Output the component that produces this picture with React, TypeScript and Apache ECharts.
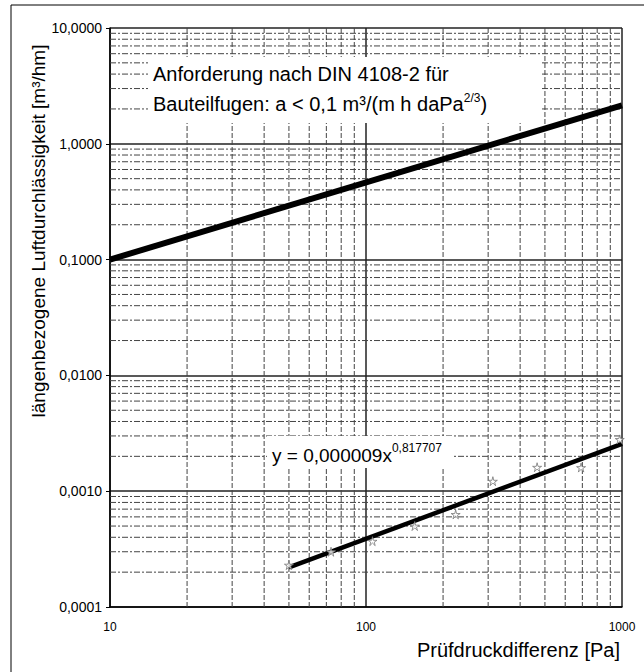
import React, { useEffect, useRef } from "react";
import * as echarts from "echarts";

const xMin = 10;
const xMax = 1000;
const yMin = 0.0001;
const yMax = 10;
const xTickLabels = ["10", "100", "1000"];
const xMinorGrid = [20, 30, 40, 50, 60, 70, 80, 90, 200, 300, 400, 500, 600, 700, 800, 900];
const yMinorGrid = [
  0.0002, 0.0003, 0.0004, 0.0005, 0.0006, 0.0007, 0.0008, 0.0009,
  0.002, 0.003, 0.004, 0.005, 0.006, 0.007, 0.008, 0.009,
  0.02, 0.03, 0.04, 0.05, 0.06, 0.07, 0.08, 0.09,
  0.2, 0.3, 0.4, 0.5, 0.6, 0.7, 0.8, 0.9,
  2, 3, 4, 5, 6, 7, 8, 9,
];
const requirementX = [10, 1000];
const requirementY = [0.1, 2.15];
const fitX = [50, 1000];
const fitY = [0.00022, 0.00256];
const pressure = [50, 73, 106, 155, 224, 313, 466, 692, 980];
const measured = [0.00023, 0.0003, 0.00037, 0.0005, 0.00063, 0.00122, 0.00161, 0.0016, 0.0028];

const FONT = "Liberation Sans, Arial, sans-serif";

export default function App() {
  const ref = useRef<HTMLDivElement>(null);
  useEffect(() => {
    if (!ref.current) return;
    const chart = echarts.init(ref.current, null, { renderer: "svg" });
    const vLine = (params: any, api: any) => {
      const cs = params.coordSys;
      const x = api.coord([api.value(0), 1])[0];
      return {
        type: "line",
        shape: { x1: x, y1: cs.y, x2: x, y2: cs.y + cs.height },
        style: { stroke: "#444", lineWidth: 1, lineDash: [5, 2] },
        silent: true,
      };
    };
    const hLine = (params: any, api: any) => {
      const cs = params.coordSys;
      const y = api.coord([10, api.value(1)])[1];
      return {
        type: "line",
        shape: { x1: cs.x, y1: y, x2: cs.x + cs.width, y2: y },
        style: { stroke: "#444", lineWidth: 1, lineDash: [6, 2, 2, 2] },
        silent: true,
      };
    };
    const fmtY = (v: number) => v.toFixed(4).replace(".", ",");
    chart.setOption({
      animation: false,
      backgroundColor: "#fff",
      grid: { left: 110, right: 22, top: 28, bottom: 65 },
      xAxis: {
        type: "log",
        logBase: 10,
        min: xMin,
        max: xMax,
        axisLine: { show: true, lineStyle: { color: "#000", width: 1.5 } },
        axisTick: { show: false },
        axisLabel: {
          color: "#000",
          fontFamily: FONT,
          fontSize: 12,
          margin: 14,
          formatter: (v: number) => {
            const i = Math.round(Math.log10(v)) - 1;
            return xTickLabels[i] ?? String(v);
          },
        },
        splitLine: { show: true, lineStyle: { color: "#222", width: 1.5 } },
      },
      yAxis: {
        type: "log",
        logBase: 10,
        min: yMin,
        max: yMax,
        axisLine: { show: true, lineStyle: { color: "#000", width: 1.5 } },
        axisTick: { show: true, length: 4, lineStyle: { color: "#000" } },
        axisLabel: {
          color: "#000",
          fontFamily: FONT,
          fontSize: 14,
          margin: 8,
          formatter: fmtY,
        },
        splitLine: { show: true, lineStyle: { color: "#222", width: 1.5 } },
      },
      series: [
        {
          type: "custom",
          renderItem: vLine,
          data: xMinorGrid.map((v) => [v, 1]),
          silent: true,
          z: 1,
        },
        {
          type: "custom",
          renderItem: hLine,
          data: yMinorGrid.map((v) => [10, v]),
          silent: true,
          z: 1,
        },
        {
          type: "line",
          data: requirementX.map((x, i) => [x, requirementY[i]]),
          showSymbol: false,
          lineStyle: { color: "#000", width: 6 },
          z: 5,
        },
        {
          type: "line",
          data: fitX.map((x, i) => [x, fitY[i]]),
          showSymbol: false,
          lineStyle: { color: "#000", width: 4.5 },
          z: 5,
        },
        {
          type: "scatter",
          data: pressure.map((x, i) => [x, measured[i]]),
          symbol:
            "path://M5 0 L6 4 L10 4 L7 6 L8 10 L5 7 L2 10 L3 6 L0 4 L4 4 Z",
          symbolSize: 9,
          itemStyle: { color: "#fff", borderColor: "#777", borderWidth: 1 },
          z: 6,
        },
      ],
      graphic: [
        {
          type: "rect",
          shape: { x: 11, y: 5, width: 700, height: 700 },
          style: { fill: "none", stroke: "#000", lineWidth: 1 },
          silent: true,
          z: 0,
        },
        {
          type: "rect",
          shape: { x: 148, y: 57, width: 392, height: 66 },
          style: { fill: "#fff" },
          z: 10,
        },
        {
          type: "text",
          x: 153,
          y: 74,
          style: {
            text: "Anforderung nach DIN 4108-2 für",
            font: `20px ${FONT}`,
            fill: "#000",
            textVerticalAlign: "middle",
          },
          z: 11,
        },
        {
          type: "text",
          x: 153,
          y: 104,
          style: {
            text: "Bauteilfugen: a < 0,1 m³/(m h daPa{s|2/3})",
            font: `20px ${FONT}`,
            fill: "#000",
            textVerticalAlign: "middle",
            rich: {
              s: { fontSize: 12, fontFamily: FONT, padding: [0, 0, 12, 0] },
            },
          },
          z: 11,
        },
        {
          type: "rect",
          shape: { x: 267, y: 436, width: 186, height: 32 },
          style: { fill: "#fff" },
          z: 10,
        },
        {
          type: "text",
          x: 272,
          y: 455,
          style: {
            text: "y = 0,000009x{s|0,817707}",
            font: `19px ${FONT}`,
            fill: "#000",
            textVerticalAlign: "middle",
            rich: {
              s: { fontSize: 12, fontFamily: FONT, padding: [0, 0, 14, 0] },
            },
          },
          z: 11,
        },
        {
          type: "text",
          x: 620,
          y: 650,
          style: {
            text: "Prüfdruckdifferenz [Pa]",
            font: `20px ${FONT}`,
            fill: "#000",
            textAlign: "right",
            textVerticalAlign: "middle",
          },
          z: 11,
        },
        {
          type: "text",
          x: 38,
          y: 231,
          rotation: Math.PI / 2,
          style: {
            text: "längenbezogene Luftdurchlässigkeit [m³/hm]",
            font: `19px ${FONT}`,
            fill: "#000",
            textAlign: "center",
            textVerticalAlign: "middle",
          },
          z: 11,
        },
      ],
    });
    return () => chart.dispose();
  }, []);
  return <div ref={ref} style={{ width: 644, height: 672, position: "absolute", left: 0, top: 0 }} />;
}
